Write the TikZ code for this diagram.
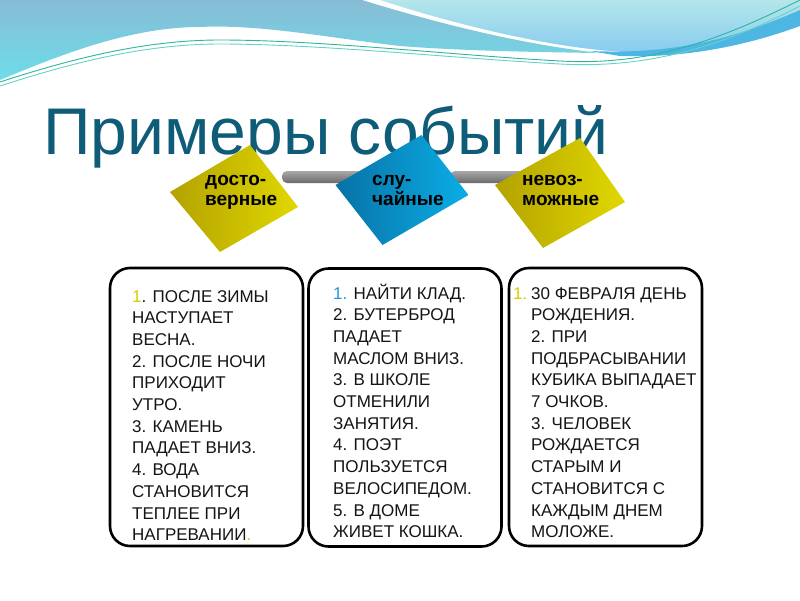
\documentclass[tikz,border=0pt]{standalone}
\usepackage{fontspec}
\setmainfont{Liberation Sans}
\usetikzlibrary{calc}
\definecolor{titlec}{HTML}{0E5C78}
\definecolor{ylwL}{HTML}{E0D800}
\definecolor{ylwD}{HTML}{B4A200}
\definecolor{bluL}{HTML}{0AAEE6}
\definecolor{bluD}{HTML}{0872A6}
\definecolor{numY}{HTML}{D8CC00}
\definecolor{numB}{HTML}{1E9AD6}
\definecolor{txt}{HTML}{151515}
\definecolor{waveAT}{HTML}{88BCD6}
\definecolor{waveAB}{HTML}{6CDDE8}
\definecolor{waveBT}{HTML}{B4E6EA}
\definecolor{waveBB}{HTML}{88CCF0}
\definecolor{waveC}{HTML}{4DB6E2}
\definecolor{lineA}{HTML}{2EB5A0}
\definecolor{lineB}{HTML}{66D2C4}
\definecolor{barT}{HTML}{A8A8A8}
\definecolor{barM}{HTML}{F2F2F2}
\definecolor{barB}{HTML}{6A6A6A}
\tikzset{
  listbox/.style={draw=black, line width=2.6pt, rounded corners=20pt, minimum width=193pt, minimum height=278pt, inner sep=0},
  listtext/.style={anchor=base west, inner sep=0, text=txt, font=\fontsize{17}{21.7}\selectfont},
  dtext/.style={anchor=base west, inner sep=0, text=black, font=\fontsize{19}{20}\selectfont\bfseries},
  barshade/.style={top color=barT, middle color=barM, bottom color=barB, rounded corners=5pt},
  dpoint/.style={inner sep=0, minimum size=0pt}
}
\begin{document}
\begin{tikzpicture}[x=1pt,y=-1pt]
\useasboundingbox (0,0) rectangle (800,600);
\fill[white] (0,0) rectangle (800,600);
% waves
\shade[top color=waveAT, bottom color=waveAB]
  (0,0) -- (362,0) .. controls (440,24) and (520,44) .. (600,53)
  .. controls (520,52) and (450,50) .. (400,46)
  .. controls (330,38) and (260,24) .. (200,27)
  .. controls (130,27) and (60,55) .. (0,80) -- cycle;
\shade[top color=waveBT, bottom color=waveBB]
  (380,0) -- (800,0) -- (800,10) .. controls (740,38) and (680,52) .. (630,52)
  .. controls (560,50) and (460,26) .. (380,0) -- cycle;
\fill[waveC] (590,51) .. controls (680,55) and (740,36) .. (800,10) -- (800,26)
  .. controls (740,48) and (680,58) .. (620,56) -- cycle;
\draw[lineA, line width=0.9pt] (0,82) .. controls (80,56) and (150,40) .. (220,40)
  .. controls (320,40) and (450,55) .. (560,61) .. controls (650,66) and (720,40) .. (800,0);
\draw[lineB, line width=0.9pt] (0,86) .. controls (80,60) and (150,44) .. (220,44)
  .. controls (320,44) and (450,58) .. (560,64) .. controls (650,69) and (725,45) .. (800,6);

% title
\node[anchor=base west, inner sep=0, text=titlec, font=\fontsize{66}{72}\selectfont] (title) at (43,154) {Примеры событий};

% diamond centres
\node[dpoint] (d1) at (234,198) {};
\node[dpoint] (d2) at (402,190) {};
\node[dpoint] (d3) at (560,193) {};

% bars (behind diamonds)
\shade[barshade] ($(d1)+(48,-27)$) rectangle ($(d2)+(-30,-7)$);
\shade[barshade] ($(d2)+(48,-19)$) rectangle ($(d3)+(-30,-10)$);

% diamonds
\shade[left color=ylwD, right color=ylwL] (170,192) -- (250,145) -- (298,207) -- (220,252) -- cycle;
\shade[left color=bluD, right color=bluL] (335.5,185) -- (421.5,135) -- (468.5,195) -- (382.5,245) -- cycle;
\shade[left color=ylwD, right color=ylwL] (495,185) -- (580,138) -- (625,202) -- (543,248) -- cycle;

\node[dtext] (t1) at (205,185) {\parbox[t]{100pt}{досто-\\верные}};
\node[dtext] (t2) at (372,185) {\parbox[t]{100pt}{слу-\\чайные}};
\node[dtext] (t3) at (522,185) {\parbox[t]{100pt}{невоз-\\можные}};

% boxes
\node[listbox] (b1) at (206.5,407) {};
\node[listbox] (b2) at (405,407.5) {};
\node[listbox] (b3) at (605.5,407) {};

\node[listtext] (l1) at (132,302) {\parbox[t]{200pt}{\raggedright\leavevmode
{\color{numY}1}. ПОСЛЕ ЗИМЫ\\
НАСТУПАЕТ\\
ВЕСНА.\\
2. ПОСЛЕ НОЧИ\\
ПРИХОДИТ\\
УТРО.\\
3. КАМЕНЬ\\
ПАДАЕТ ВНИЗ.\\
4. ВОДА\\
СТАНОВИТСЯ\\
ТЕПЛЕЕ ПРИ\\
НАГРЕВАНИИ{\color{numY}.}}};

\node[listtext] (l2) at (333,299) {\parbox[t]{200pt}{\raggedright\leavevmode
{\color{numB}1.} НАЙТИ КЛАД.\\
2. БУТЕРБРОД\\
ПАДАЕТ\\
МАСЛОМ ВНИЗ.\\
3. В ШКОЛЕ\\
ОТМЕНИЛИ\\
ЗАНЯТИЯ.\\
4. ПОЭТ\\
ПОЛЬЗУЕТСЯ\\
ВЕЛОСИПЕДОМ.\\
5. В ДОМЕ\\
ЖИВЕТ КОШКА.}};

\node[listtext] (l3) at (531,299) {\parbox[t]{200pt}{\raggedright\leavevmode
\llap{{\color{numY}1.}\hspace{4pt}}30 ФЕВРАЛЯ ДЕНЬ\\
РОЖДЕНИЯ.\\
2. ПРИ\\
ПОДБРАСЫВАНИИ\\
КУБИКА ВЫПАДАЕТ\\
7 ОЧКОВ.\\
3. ЧЕЛОВЕК\\
РОЖДАЕТСЯ\\
СТАРЫМ И\\
СТАНОВИТСЯ С\\
КАЖДЫМ ДНЕМ\\
МОЛОЖЕ.}};
\end{tikzpicture}
\end{document}
